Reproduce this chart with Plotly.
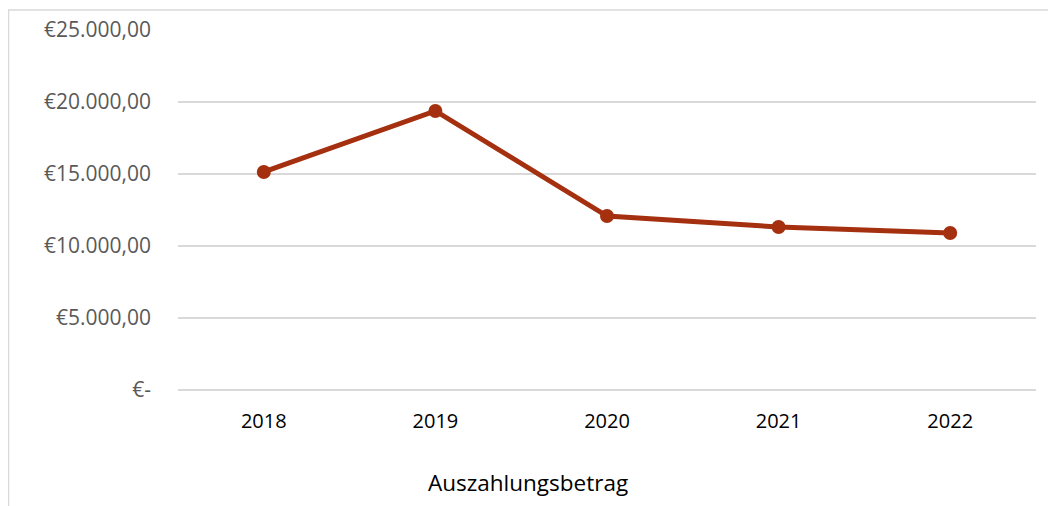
import plotly.graph_objects as go

years = ["2018", "2019", "2020", "2021", "2022"]
betrag = [15140, 19380, 12080, 11320, 10900]
y_tickvals = [0, 5000, 10000, 15000, 20000, 25000]
y_ticktext = ["€-", "€5.000,00", "€10.000,00", "€15.000,00", "€20.000,00", "€25.000,00"]
title_text = "Auszahlungsbetrag"

# page body has an 8px margin, so the figure starts at (8, 8)
OFF = 8
W, H = 1056 - OFF, 506 - OFF
L, R, T, B = 178 - OFF, 20, 30 - OFF, 506 - 390
pw, ph = W - L - R, H - T - B

fig = go.Figure()
fig.add_trace(go.Scatter(
    x=years, y=betrag, mode="lines+markers",
    line=dict(color="#A5300F", width=5),
    marker=dict(color="#A5300F", size=14),
    showlegend=False, hoverinfo="x+y",
))

font_family = "'Open Sans', Carlito, Calibri, sans-serif"

fig.update_layout(
    width=W, height=H,
    margin=dict(l=L, r=R, t=T, b=B, autoexpand=False),
    paper_bgcolor="white", plot_bgcolor="white",
    font=dict(family=font_family),
    xaxis=dict(
        type="category", range=[-0.5, 4.5], automargin=False,
        showgrid=False, showline=False, zeroline=False, ticks="",
        tickfont=dict(size=20, color="#000000"),
        ticklabelstandoff=17,
    ),
    yaxis=dict(
        range=[0, 25000], tickvals=y_tickvals, ticktext=y_ticktext,
        automargin=False,
        showgrid=True, gridcolor="#D9D9D9", gridwidth=1.5,
        zeroline=True, zerolinecolor="#D9D9D9", zerolinewidth=1.5,
        showline=False, ticks="",
        tickfont=dict(size=21, color="#595959"),
        ticklabelstandoff=26,
    ),
    annotations=[dict(
        text=title_text, xref="paper", yref="paper",
        x=(528 - 178) / pw, y=-(482 - 390) / ph,
        xanchor="center", yanchor="middle", showarrow=False,
        font=dict(size=22.5, color="#000000", family=font_family),
    )],
    shapes=[dict(
        type="rect", xref="paper", yref="paper",
        x0=(8.5 - 178) / pw, x1=(1070 - 178) / pw,
        y0=-(520 - 390) / ph, y1=1 + (30 - 10) / ph,
        line=dict(color="#D9D9D9", width=1.5), fillcolor="rgba(0,0,0,0)",
        layer="below",
    )],
)

fig.write_html("out.html")
